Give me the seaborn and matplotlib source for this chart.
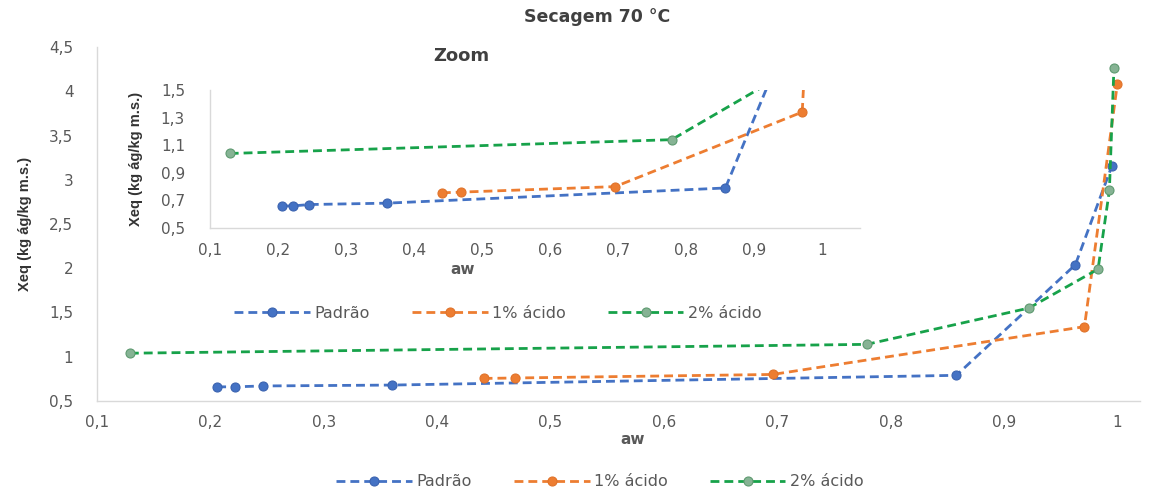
import numpy as np
import pandas as pd
import seaborn as sns
import matplotlib.pyplot as plt
from matplotlib.ticker import FuncFormatter

# valores (aw, Xeq)
aw_padrao = [0.206, 0.222, 0.246, 0.36, 0.858, 0.963, 0.995]
xeq_padrao = [0.66, 0.66, 0.67, 0.68, 0.79, 2.04, 3.15]
aw_1acido = [0.441, 0.469, 0.696, 0.971, 1.0]
xeq_1acido = [0.755, 0.76, 0.80, 1.34, 4.08]
aw_2acido = [0.129, 0.779, 0.922, 0.983, 0.993, 0.997]
xeq_2acido = [1.04, 1.14, 1.55, 1.99, 2.88, 4.26]
series = ['Padrão', '1% ácido', '2% ácido']

line_colors = {'Padrão': '#4472C4', '1% ácido': '#ED7D31', '2% ácido': '#17A24A'}
face_colors = {'Padrão': '#4472C4', '1% ácido': '#ED7D31', '2% ácido': '#86B394'}
edge_colors = {'Padrão': '#3B63B0', '1% ácido': '#E0732A', '2% ácido': '#5E9A70'}

df = pd.concat([
    pd.DataFrame({'aw': aw_padrao, 'xeq': xeq_padrao, 'serie': 'Padrão'}),
    pd.DataFrame({'aw': aw_1acido, 'xeq': xeq_1acido, 'serie': '1% ácido'}),
    pd.DataFrame({'aw': aw_2acido, 'xeq': xeq_2acido, 'serie': '2% ácido'}),
])

W, H = 1170, 493
GRAY = '#595959'
FS = 11


def comma(v, pos):
    return ('%g' % round(v, 3)).replace('.', ',')


def draw(ax):
    for s in series:
        d = df[df.serie == s]
        sns.lineplot(data=d, x='aw', y='xeq', ax=ax, sort=False, estimator=None,
                     color=line_colors[s], linewidth=2.0, linestyle=(0, (3.2, 1.8)),
                     marker='o', markersize=6.5, markerfacecolor=face_colors[s],
                     markeredgecolor=edge_colors[s], markeredgewidth=0.8,
                     label=s, legend=False)
    ax.set_xlabel('')
    ax.set_ylabel('')
    ax.xaxis.set_major_formatter(FuncFormatter(comma))
    ax.yaxis.set_major_formatter(FuncFormatter(comma))
    ax.tick_params(length=0, labelsize=FS, labelcolor=GRAY)
    for side in ['top', 'right']:
        ax.spines[side].set_visible(False)
    for side in ['left', 'bottom']:
        ax.spines[side].set_color('#D9D9D9')
        ax.spines[side].set_linewidth(1)
    ax.set_facecolor('white')
    ax.grid(False)


def box(l, r, t, b):
    return [l / W, 1 - b / H, (r - l) / W, (b - t) / H]


sns.set_theme(style='white')
plt.rcParams['font.family'] = ['DejaVu Sans']

fig = plt.figure(figsize=(W / 100, H / 100), dpi=100)
ax = fig.add_axes(box(97, 1140, 47, 401))
draw(ax)
ax.set_xlim(0.1, 1.02)
ax.set_ylim(0.5, 4.5)
ax.set_xticks(np.arange(0.1, 1.01, 0.1))
ax.set_yticks(np.arange(0.5, 4.51, 0.5))
ax.tick_params(axis='y', pad=17)
ax.tick_params(axis='x', pad=10)

axz = fig.add_axes(box(210, 860, 90, 228))
draw(axz)
axz.set_xlim(0.1, 1.056)
axz.set_ylim(0.5, 1.5)
axz.set_xticks(np.arange(0.1, 1.01, 0.1))
axz.set_yticks(np.arange(0.5, 1.51, 0.2))
axz.tick_params(axis='y', pad=18)
axz.tick_params(axis='x', pad=11)

ylab = 'Xeq (kg ág/kg m.s.)'
lab_kw = dict(fontsize=10.5, fontweight='bold', color='#333333',
              family=['Liberation Sans', 'DejaVu Sans'])
ax.set_ylabel(ylab, **lab_kw)
ax.yaxis.set_label_coords((32 - 97) / (1140 - 97), 0.5)
axz.set_ylabel(ylab, **lab_kw)
axz.yaxis.set_label_coords((143 - 210) / (860 - 210), 0.5)

fig.text(597 / W, 1 - 17 / H, 'Secagem 70 °C', ha='center', va='center',
         fontsize=12.5, fontweight='bold', color='#404040')
fig.text(461 / W, 1 - 56 / H, 'Zoom', ha='center', va='center',
         fontsize=13, fontweight='bold', color='#404040')
fig.text(463 / W, 1 - 270 / H, 'aw', ha='center', va='center',
         fontsize=FS, fontweight='bold', color=GRAY)
fig.text(633 / W, 1 - 440 / H, 'aw', ha='center', va='center',
         fontsize=FS, fontweight='bold', color=GRAY)

handles = ax.get_lines()[:3]
for (cx, cy) in [(498, 313), (600, 482)]:
    leg = fig.legend(handles, series, loc='center', bbox_to_anchor=(cx / W, 1 - cy / H),
                     ncol=3, frameon=False, handlelength=4.75, columnspacing=2.6,
                     handletextpad=0.3, fontsize=11.5, borderpad=0.1)
    for t in leg.get_texts():
        t.set_color(GRAY)

fig.savefig('out.png', dpi=100)
